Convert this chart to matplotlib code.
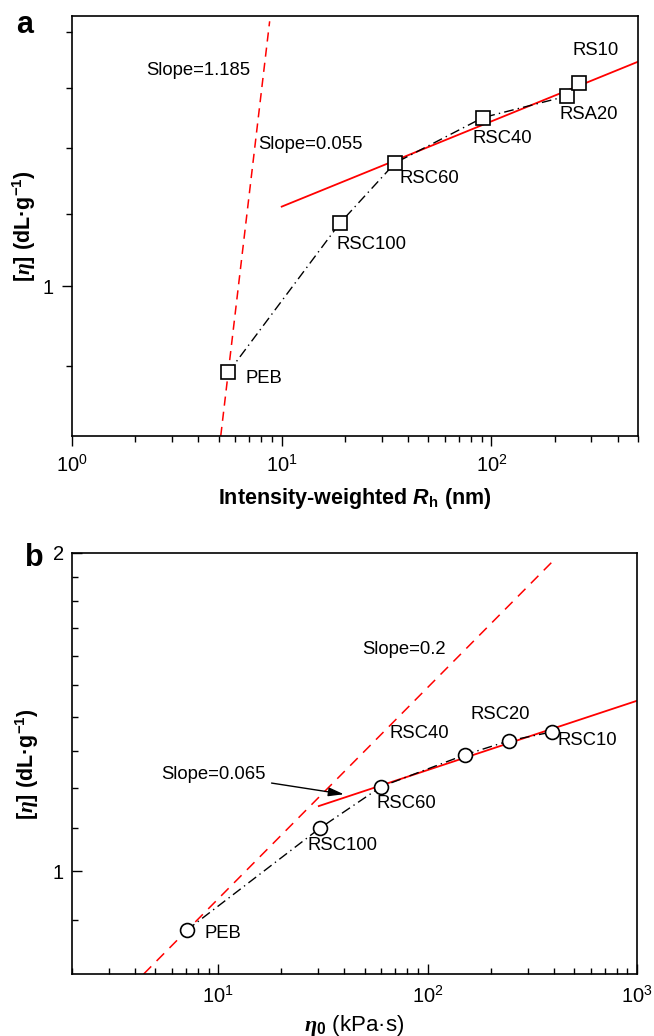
import matplotlib
matplotlib.use("Agg")
import matplotlib.pyplot as plt
from matplotlib.ticker import FixedLocator, FixedFormatter, LogLocator, NullFormatter
import numpy as np

# ---------------- data ----------------
# panel a
rh_a = [5.56, 18.95, 34.7, 91.1, 228.6, 262.5]
eta_a = [0.892, 1.087, 1.177, 1.250, 1.286, 1.308]
names_a = ["PEB", "RSC100", "RSC60", "RSC40", "RSA20", "RS10"]
fit1_a_x = [5.12, 8.76]
fit1_a_y = [0.82, 1.42]
fit2_a_x = [10.0, 500.0]
fit2_a_y = [1.111, 1.346]

# panel b
eta0_b = [7.06, 30.6, 60.1, 150.6, 244.6, 392.6]
eta_b = [0.880, 1.099, 1.203, 1.289, 1.329, 1.355]
names_b = ["PEB", "RSC100", "RSC60", "RSC40", "RSC20", "RSC10"]
fit1_b_x = [4.40, 394.5]
fit1_b_y = [0.80, 1.963]
fit2_b_x = [30.2, 1000.0]
fit2_b_y = [1.153, 1.450]

# label offsets (pixels) relative to the markers
off_a = [(17.6, -5.7), (-3.3, -21.4), (4.6, -15.7), (-10.5, -21), (-7.4, -18.6), (-7, 33.3)]
off_b = [(17.8, -3.7), (-12.6, -17.7), (-5, -16.6), (-75.3, 21.7), (-38.9, 26.4), (5.9, -8.7)]

# ---------------- style ----------------
plt.rcParams["font.family"] = ["Liberation Sans", "DejaVu Sans"]
plt.rcParams["mathtext.fontset"] = "custom"
plt.rcParams["mathtext.rm"] = "Liberation Sans"
plt.rcParams["mathtext.it"] = "Liberation Sans:italic:bold"
plt.rcParams["mathtext.bf"] = "Liberation Sans:bold"
plt.rcParams["mathtext.cal"] = "Liberation Serif:italic:bold"
plt.rcParams["mathtext.sf"] = "Liberation Sans"
plt.rcParams["axes.linewidth"] = 1.2

W, H = 654, 1036
fig = plt.figure(figsize=(W / 100, H / 100), dpi=100)

def px_axes(l, t, r, b):
    return fig.add_axes([l / W, 1 - b / H, (r - l) / W, (b - t) / H])

ax_a = px_axes(72, 16, 638, 436)
ax_b = px_axes(72, 553, 637, 974)

TXT = 13.3
TICK = 14.5
RED = "#ff0000"

def common(ax, direction, xpad, ypad):
    ax.set_xscale("log")
    ax.set_yscale("log")
    ax.tick_params(which="both", direction=direction, labelsize=TICK, width=1.0)
    ax.tick_params(which="major", length=7)
    ax.tick_params(which="minor", length=4)
    ax.tick_params(axis="x", which="both", pad=xpad)
    ax.tick_params(axis="y", which="both", pad=ypad)
    ax.xaxis.set_major_locator(LogLocator(base=10, numticks=10))
    ax.xaxis.set_minor_locator(LogLocator(base=10, subs=np.arange(2, 10), numticks=20))
    ax.xaxis.set_minor_formatter(NullFormatter())

# ---------------- panel a ----------------
ax = ax_a
common(ax, "out", 6, 6)
ax.set_xlim(1, 500)
ax.set_ylim(0.82, 1.43)
ax.yaxis.set_major_locator(FixedLocator([1]))
ax.yaxis.set_major_formatter(FixedFormatter(["1"]))
ax.yaxis.set_minor_locator(FixedLocator([0.9, 1.1, 1.2, 1.3, 1.4]))
ax.yaxis.set_minor_formatter(NullFormatter())

ax.plot(fit1_a_x, fit1_a_y, color=RED, lw=1.1, dashes=(6, 4))
ax.plot(fit2_a_x, fit2_a_y, color=RED, lw=1.3)
ax.plot(rh_a, eta_a, color="black", lw=1.0, dashes=(7, 3, 1, 3),
        marker="s", ms=9.5, mfc="white", mec="black", mew=1.2)
for x, y, n, (dx, dy) in zip(rh_a, eta_a, names_a, off_a):
    ax.annotate(n, (x, y), xytext=(dx, dy), textcoords="offset pixels",
                ha="left", va="center", fontsize=TXT)
ax.text(2.26, 1.331, "Slope=1.185", fontsize=TXT, ha="left", va="center")
ax.text(7.74, 1.206, "Slope=0.055", fontsize=TXT, ha="left", va="center")
ax.set_xlabel(r"Intensity-weighted $\mathit{R}_\mathbf{h}$ (nm)", fontsize=15.5,
              fontweight="bold", labelpad=7)

# ---------------- panel b ----------------
ax = ax_b
common(ax, "in", 8, 6)
ax.set_xlim(2, 1000)
ax.set_ylim(0.8, 2.0)
ax.yaxis.set_major_locator(FixedLocator([1, 2]))
ax.yaxis.set_major_formatter(FixedFormatter(["1", "2"]))
ax.yaxis.set_minor_locator(FixedLocator([0.9, 1.1, 1.2, 1.3, 1.4, 1.5, 1.6, 1.7, 1.8, 1.9]))
ax.yaxis.set_minor_formatter(NullFormatter())

ax.plot(fit1_b_x, fit1_b_y, color=RED, lw=1.1, dashes=(7, 5))
ax.plot(fit2_b_x, fit2_b_y, color=RED, lw=1.3)
ax.plot(eta0_b, eta_b, color="black", lw=1.0, dashes=(7, 3, 1, 3),
        marker="o", ms=10, mfc="white", mec="black", mew=1.2)
for x, y, n, (dx, dy) in zip(eta0_b, eta_b, names_b, off_b):
    ax.annotate(n, (x, y), xytext=(dx, dy), textcoords="offset pixels",
                ha="left", va="center", fontsize=TXT)
ax.text(48.5, 1.62, "Slope=0.2", fontsize=TXT, ha="left", va="center")
ax.annotate("Slope=0.065", xy=(39.8, 1.183), xytext=(16.9, 1.236),
            ha="right", va="center", fontsize=TXT,
            arrowprops=dict(arrowstyle="-|>,head_length=0.7,head_width=0.2",
                            color="black", lw=1.0, shrinkA=2, shrinkB=0))
ax.set_xlabel(r"$\mathcal{η}_{\mathbf{0}}$ (kPa·s)", fontsize=16, labelpad=4)

# y labels
ylab = r"[$\mathcal{η}$] (dL·g$^{\mathbf{-1}}$)"
fig.text(24 / W, 1 - 226 / H, ylab, rotation=90, ha="center", va="center",
         fontsize=15.5, fontweight="bold")
fig.text(27 / W, 1 - 764 / H, ylab, rotation=90, ha="center", va="center",
         fontsize=15.5, fontweight="bold")

# panel letters
fig.text(16 / W, 1 - 33 / H, "a", fontsize=22, fontweight="bold", ha="left", va="baseline")
fig.text(25 / W, 1 - 566 / H, "b", fontsize=22, fontweight="bold", ha="left", va="baseline")

fig.savefig("out.png", dpi=100)
